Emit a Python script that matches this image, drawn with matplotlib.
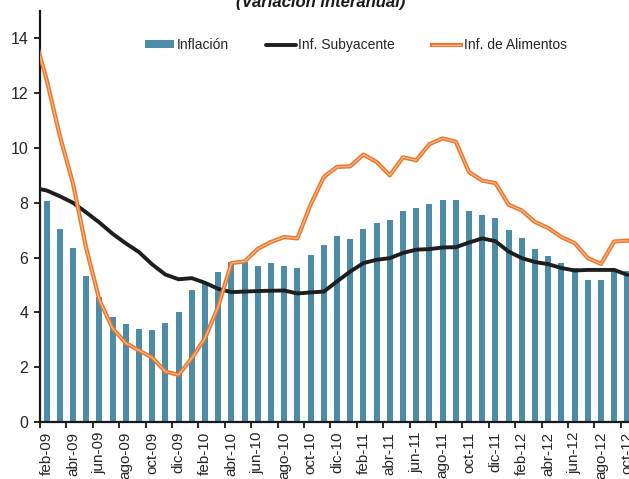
import matplotlib
matplotlib.use('Agg')
from matplotlib import pyplot as plt
import numpy as np

plt.rcParams['font.family'] = ['Liberation Sans', 'DejaVu Sans']

# Meses: ene-09 ... oct-12 (las líneas arrancan en ene-09, las barras en feb-09)
abbr = ['ene', 'feb', 'mar', 'abr', 'may', 'jun', 'jul', 'ago', 'sep', 'oct', 'nov', 'dic']
meses_lineas = [f'{m}-{a:02d}' for a in range(9, 13) for m in abbr][0:46]
meses = meses_lineas[1:]

# Inflación general (barras), feb-09 a oct-12
inflacion = [8.08, 7.05, 6.36, 5.34, 4.58, 3.83, 3.58, 3.39, 3.36, 3.63, 4.00, 4.82,
             5.03, 5.48, 5.85, 5.84, 5.70, 5.82, 5.70, 5.63, 6.09, 6.47, 6.80, 6.68,
             7.04, 7.26, 7.36, 7.70, 7.81, 7.96, 8.10, 8.10, 7.69, 7.56, 7.43, 6.99,
             6.72, 6.31, 6.07, 5.79, 5.62, 5.17, 5.17, 5.55, 5.50]

# Inflación subyacente, ene-09 a oct-12
subyacente = [8.55, 8.45, 8.24, 8.00, 7.65, 7.28, 6.87, 6.52, 6.20, 5.75, 5.38, 5.21,
              5.25, 5.08, 4.86, 4.74, 4.76, 4.78, 4.79, 4.80, 4.69, 4.73, 4.76, 5.13,
              5.49, 5.80, 5.92, 5.98, 6.17, 6.29, 6.31, 6.37, 6.38, 6.55, 6.70, 6.60,
              6.22, 5.98, 5.84, 5.76, 5.62, 5.53, 5.55, 5.55, 5.55, 5.37]

# Inflación de alimentos, ene-09 a oct-12
alimentos = [14.2, 12.5, 10.45, 8.70, 6.35, 4.45, 3.42, 2.88, 2.61, 2.35, 1.84, 1.72,
             2.33, 3.06, 4.21, 5.80, 5.86, 6.32, 6.57, 6.75, 6.70, 7.93, 8.94, 9.31,
             9.33, 9.76, 9.49, 9.00, 9.66, 9.55, 10.14, 10.35, 10.23, 9.12, 8.81, 8.72,
             7.93, 7.72, 7.30, 7.08, 6.75, 6.53, 5.98, 5.77, 6.59, 6.62]

x_barras = np.arange(len(meses))
x_lineas = np.arange(len(meses_lineas)) - 1

fig = plt.figure(figsize=(6.29, 4.79), dpi=100)
ax = fig.add_axes([40 / 629, 57 / 479, 594 / 629, 411 / 479])

barras = ax.bar(x_barras, inflacion, width=0.45, color='#4D8CA6', label='Inflación', zorder=2)
l_sub, = ax.plot(x_lineas, subyacente, color='#1E1E1E', linewidth=2.8,
                 solid_capstyle='round', label='Inf. Subyacente', zorder=3)
l_ali, = ax.plot(x_lineas, alimentos, color='#E8782C', linewidth=3.0, zorder=4)
l_ali2, = ax.plot(x_lineas, alimentos, color='#F7B68A', linewidth=0.9, zorder=5)

ax.set_xlim(-0.5, 44.5)
ax.set_ylim(0, 15)

# Ejes
for s in ['top', 'right']:
    ax.spines[s].set_visible(False)
for s in ['left', 'bottom']:
    ax.spines[s].set_linewidth(1.6)
    ax.spines[s].set_color('#1A1A1A')

ax.set_yticks(np.arange(0, 15, 2))
ax.tick_params(axis='y', direction='out', length=4.5, width=1.3, labelsize=11.5,
               pad=4, colors='#1A1A1A', labelcolor='#262626')

ax.set_xticks(np.arange(-0.5, 45, 2))
ax.set_xticklabels([])
ax.set_xticks(x_barras[::2], minor=True)
ax.set_xticklabels(meses[::2], minor=True, rotation=90, va='top', ha='center')
ax.tick_params(axis='x', which='major', direction='out', length=4.5, width=1.3,
               colors='#1A1A1A')
ax.tick_params(axis='x', which='minor', length=0, pad=7, labelsize=11,
               labelcolor='#262626')

ax.legend([barras, l_sub, (l_ali, l_ali2)],
          ['Inflación', 'Inf. Subyacente', 'Inf. de Alimentos'],
          loc='center', bbox_to_anchor=(0.532, 0.917), ncol=3, frameon=False,
          fontsize=10, handlelength=2.1, handleheight=0.45, handletextpad=0.18,
          columnspacing=2.7, labelcolor='#262626')

fig.text(321 / 629, 1 - 7 / 479, '(Variación interanual)', ha='center', va='baseline',
         fontsize=12, fontweight='bold', fontstyle='italic', color='#1A1A1A')

fig.savefig('out.png', dpi=100)
